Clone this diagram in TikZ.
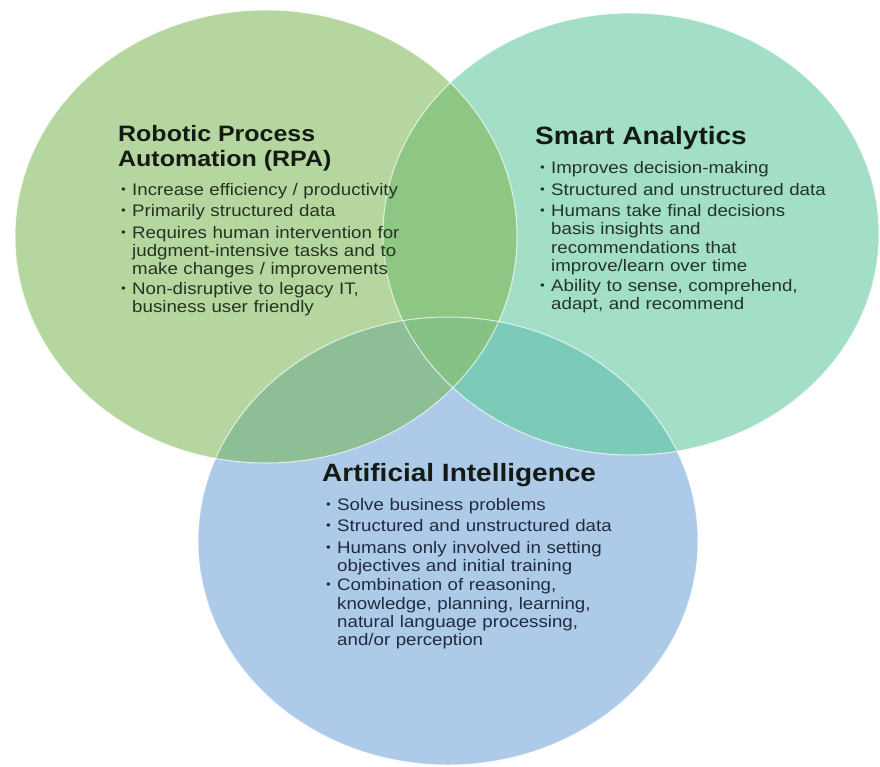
\documentclass[tikz,border=0pt]{standalone}
\usepackage{fontspec}
\setmainfont{Liberation Sans}[FakeStretch=1.12]
\definecolor{rpaC}{HTML}{B6D6A0}
\definecolor{saC}{HTML}{A3DFC6}
\definecolor{aiC}{HTML}{ADCBE9}
\definecolor{rpasaC}{HTML}{8DC783}
\definecolor{rpaaiC}{HTML}{8EBE95}
\definecolor{saaiC}{HTML}{7CCBB9}
\definecolor{allC}{HTML}{86C286}
\definecolor{headC}{HTML}{141A14}
\definecolor{rpaT}{HTML}{263322}
\definecolor{saT}{HTML}{23332D}
\definecolor{aiT}{HTML}{202B40}
\newcommand{\rpaShape}{(266,236.5) ellipse [x radius=251pt, y radius=226.5pt]}
\newcommand{\saShape}{(631,234) ellipse [x radius=248pt, y radius=221pt]}
\newcommand{\aiShape}{(448,541) ellipse [x radius=250pt, y radius=224pt]}
\newcommand{\itm}[1]{\par\noindent\makebox[11pt][l]{\raisebox{2pt}{\fontsize{12}{12}\selectfont •}}\parbox[t]{300pt}{#1}}
\tikzset{
  head/.style={anchor=north west, inner sep=0pt, align=left, text=headC,
    font=\bfseries\fontsize{25}{25}\selectfont},
  body/.style={anchor=north west, inner sep=0pt, text width=320pt, align=left,
    font=\fontsize{16.7}{18.3}\selectfont},
  rim/.style={draw=white, line width=1pt, draw opacity=0.7}
}
\begin{document}
\begin{tikzpicture}[x=1pt,y=-1pt]
	\useasboundingbox (0,0) rectangle (880,767);
	\fill[rpaC] \rpaShape;
	\fill[saC] \saShape;
	\fill[aiC] \aiShape;
	% overlaps
	\begin{scope}
		\clip \rpaShape;
		\fill[rpasaC] \saShape;
		\fill[rpaaiC] \aiShape;
	\end{scope}
	\begin{scope}
		\clip \saShape;
		\clip \aiShape;
		\fill[saaiC] (0,0) rectangle (880,767);
		\clip \rpaShape;
		\fill[allC] (0,0) rectangle (880,767);
	\end{scope}
	\draw[rim] \rpaShape;
	\draw[rim] \saShape;
	\draw[rim] \aiShape;

	\node[head, font=\bfseries\fontsize{22.3}{25}\selectfont] (rpaHead) at (118,124.7) {Robotic Process\\Automation (RPA)};
	\node[body, text=rpaT] (rpaBody) at (121,174) {\setlength{\parskip}{3pt}%
		\itm{Increase efficiency / productivity}
		\itm{Primarily structured data}
		\itm{Requires human intervention for\\judgment-intensive tasks and to\\make changes / improvements}
		\itm{Non-disruptive to legacy IT,\\business user friendly}};

	\node[head] (saHead) at (535,125.8) {Smart Analytics};
	\node[body, text=saT] (saBody) at (540,152.5) {\setlength{\parskip}{3pt}%
		\itm{Improves decision-making}
		\itm{Structured and unstructured data}
		\itm{Humans take final decisions\\basis insights and\\recommendations that\\improve/learn over time}
		\itm{Ability to sense, comprehend,\\adapt, and recommend}};

	\node[head] (aiHead) at (322,462.8) {Artificial Intelligence};
	\node[body, text=aiT] (aiBody) at (326,489) {\setlength{\parskip}{3pt}%
		\itm{Solve business problems}
		\itm{Structured and unstructured data}
		\itm{Humans only involved in setting\\objectives and initial training}
		\itm{Combination of reasoning,\\knowledge, planning, learning,\\natural language processing,\\and/or perception}};
\end{tikzpicture}
\end{document}
